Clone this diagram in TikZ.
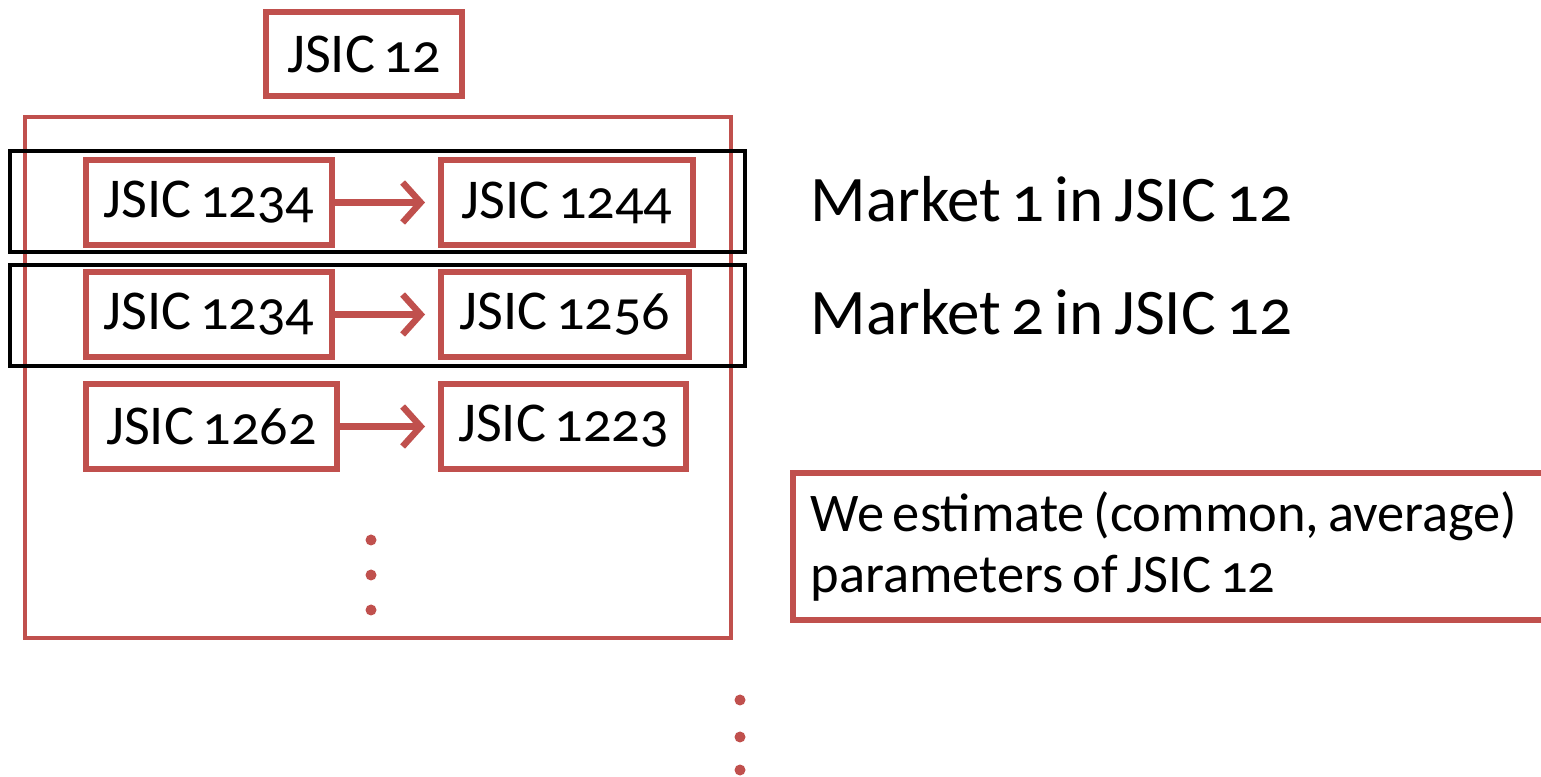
\documentclass[tikz,border=0pt]{standalone}
\usepackage{fontspec}
\setmainfont{Carlito}[Numbers=OldStyle, WordSpace=0.7]
\usepackage{tikz}
\usetikzlibrary{arrows.meta,positioning}
\definecolor{boxred}{HTML}{C0504D}

\begin{document}
\begin{tikzpicture}[
  redbox/.style={draw=boxred, line width=0.06cm, fill=white, inner sep=0pt, font=\fontsize{16}{19}\selectfont},
  codebox/.style={redbox, minimum width=2.46cm, minimum height=0.85cm},
  outerbox/.style={draw=boxred, line width=0.045cm, minimum width=7.06cm, minimum height=5.21cm},
  marketbox/.style={draw=black, line width=0.04cm, minimum width=7.35cm, minimum height=1.01cm},
  flow/.style={draw=boxred, line width=0.065cm, shorten >=0.13cm, -{Straight Barb[length=0.18cm, width=0.4cm]}},
  marketlabel/.style={anchor=base west, inner sep=0pt, font=\fontsize{18.5}{22}\selectfont},
  dot/.style={circle, fill=boxred, inner sep=0pt, minimum size=0.11cm}
]
\useasboundingbox (0,0) rectangle (15.41,-7.77);

\node[redbox, minimum width=1.96cm, minimum height=0.84cm] (jsic) at (3.64,-0.545) {JSIC 12};
\node[outerbox] (group) at (3.78,-3.775) {};

% markets inside JSIC 12
\node[codebox] (a1) at (2.09,-2.025) {JSIC 1234};
\node[codebox, minimum width=2.52cm] (b1) at (5.67,-2.025) {JSIC 1244};
\node[codebox] (a2) at (2.09,-3.145) {JSIC 1234};
\node[codebox, minimum width=2.48cm] (b2) at (5.65,-3.145) {JSIC 1256};
\node[codebox, minimum width=2.51cm] (a3) at (2.115,-4.265) {JSIC 1262};
\node[codebox, minimum width=2.45cm] (b3) at (5.635,-4.265) {JSIC 1223};

\draw[flow] (a1) -- (b1);
\draw[flow] (a2) -- (b2);
\draw[flow] (a3) -- (b3);

\node[marketbox] (m1) at (3.775,-2.02) {};
\node[marketbox] (m2) at (3.775,-3.16) {};

\node[marketlabel] (t1) at (8.1,-2.22) {Market 1 in JSIC 12};
\node[marketlabel] (t2) at (8.1,-3.35) {Market 2 in JSIC 12};

\node[redbox, anchor=north west, minimum width=7.8cm, minimum height=1.47cm] (note) at (7.9,-4.7) {};
\node[anchor=west, align=left, inner sep=0pt, font=\fontsize{15.5}{17.5}\selectfont] (notetext) at ([xshift=0.2cm]note.west) {We estimate (common, average)\\parameters of JSIC 12};

% more entries below
\node[dot] (d1) at (3.71,-5.40) {};
\node[dot] (d2) at (3.71,-5.75) {};
\node[dot] (d3) at (3.71,-6.10) {};
\node[dot] (e1) at (7.40,-7.00) {};
\node[dot] (e2) at (7.40,-7.37) {};
\node[dot] (e3) at (7.40,-7.70) {};
\end{tikzpicture}
\end{document}
